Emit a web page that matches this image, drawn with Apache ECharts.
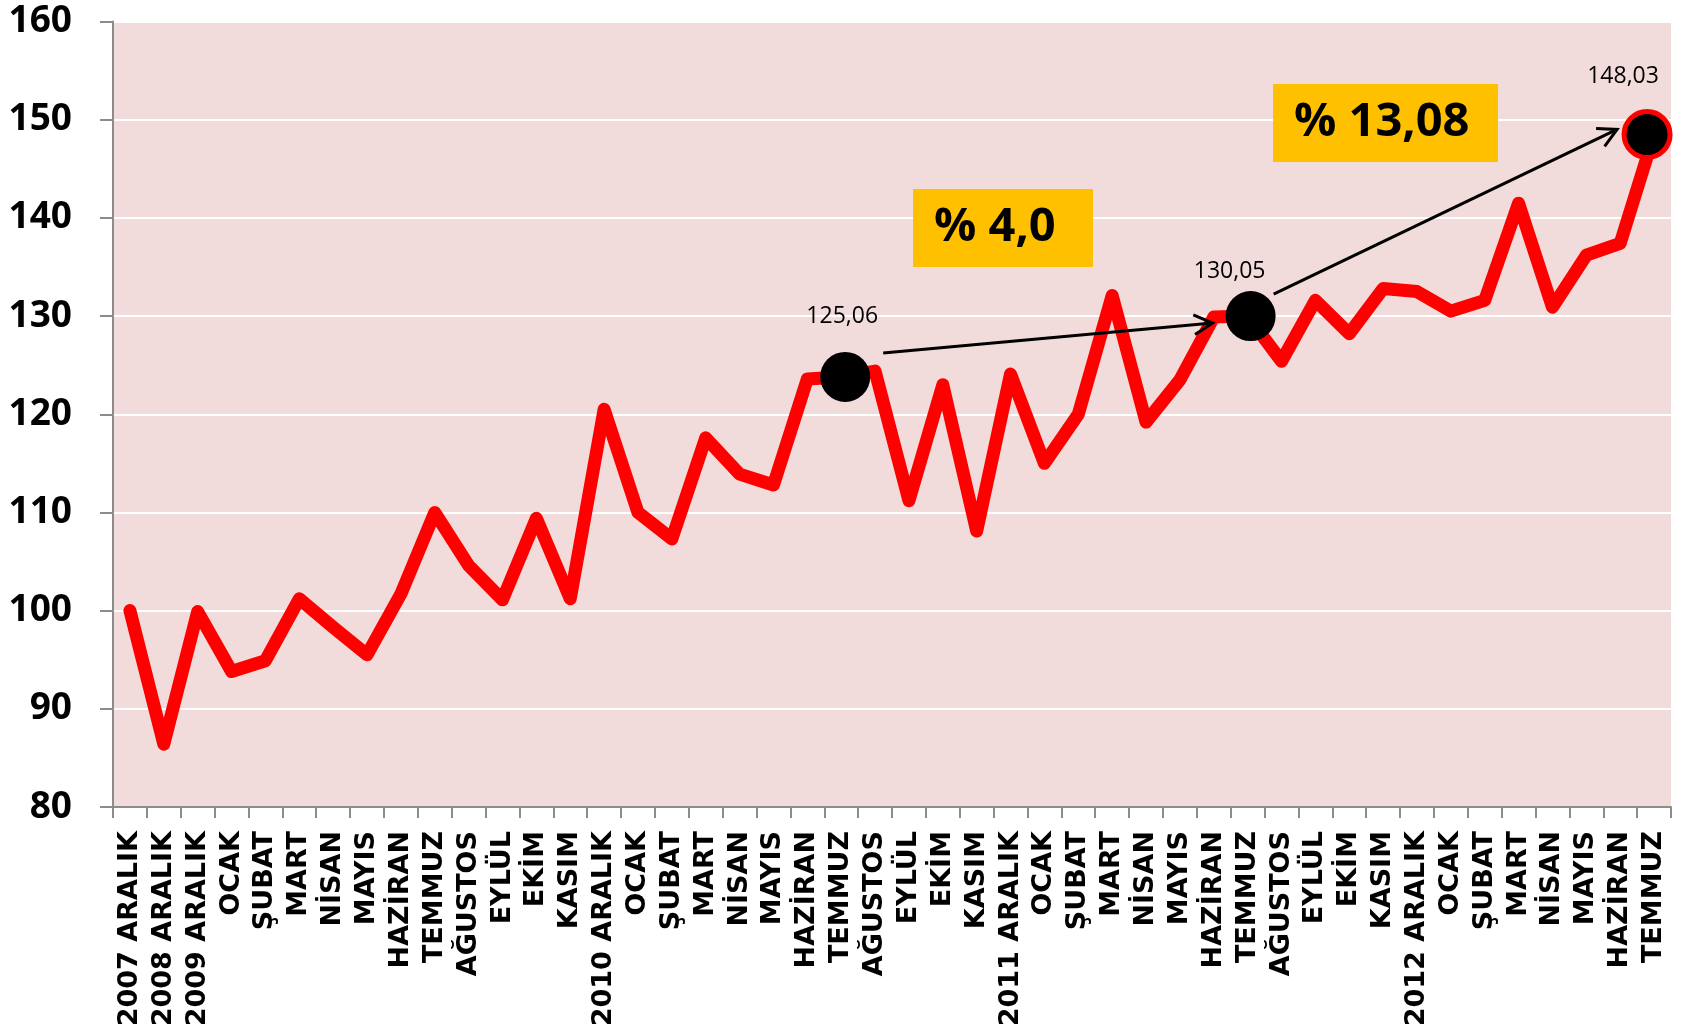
<!DOCTYPE html>
<html>
<head>
<meta charset="utf-8">
<script src="https://cdn.jsdelivr.net/npm/echarts@6/dist/echarts.min.js"></script>
<style>
html,body{margin:0;padding:0;background:#fff;}
#c{width:1692px;height:1031px;}
</style>
</head>
<body>
<div id="c"></div>
<script>
const categories = ["2007 ARALIK","2008 ARALIK","2009 ARALIK","OCAK","ŞUBAT","MART","NİSAN","MAYIS","HAZİRAN","TEMMUZ","AĞUSTOS","EYLÜL","EKİM","KASIM",
  "2010 ARALIK","OCAK","ŞUBAT","MART","NİSAN","MAYIS","HAZİRAN","TEMMUZ","AĞUSTOS","EYLÜL","EKİM","KASIM",
  "2011 ARALIK","OCAK","ŞUBAT","MART","NİSAN","MAYIS","HAZİRAN","TEMMUZ","AĞUSTOS","EYLÜL","EKİM","KASIM",
  "2012 ARALIK","OCAK","ŞUBAT","MART","NİSAN","MAYIS","HAZİRAN","TEMMUZ"];
const values = [100.0, 86.4, 99.9, 93.8, 94.9, 101.2, 98.3, 95.5, 101.7, 110.0,
  104.6, 101.1, 109.4, 101.2, 120.5, 110.0, 107.3, 117.6, 113.9, 112.8,
  123.6, 123.8, 124.4, 111.2, 123.0, 108.1, 124.1, 115.0, 120.0, 132.1,
  119.2, 123.5, 129.9, 130.0, 125.4, 131.6, 128.2, 132.8, 132.5, 130.5,
  131.6, 141.5, 130.9, 136.2, 137.4, 148.5];
const highlightIndex = [21, 33, 45];
const highlightLabels = ["125,06", "130,05", "148,03"];
const changeLabels = ["% 4,0", "% 13,08"];
const yTicks = {min: 80, max: 160, interval: 10};

const symbolShifts = [[4, 0], [3, 0], [-7, 0]];
const labelOffsets = [[-3, -60], [-21, -45], [-24, -58]];

const seriesData = values.map((v, i) => {
  const k = highlightIndex.indexOf(i);
  if (k < 0) return v;
  const last = k === 2;
  return {
    value: v,
    symbol: 'circle',
    symbolSize: last ? 46 : 50,
    symbolOffset: symbolShifts[k],
    itemStyle: {color: '#000', borderColor: last ? '#ff0000' : '#000', borderWidth: last ? 5 : 0},
    label: {
      show: true, position: 'inside', offset: labelOffsets[k],
      formatter: highlightLabels[k], color: '#000', fontSize: 23,
      fontFamily: 'Open Sans'
    }
  };
});

const chart = echarts.init(document.getElementById('c'), null, {renderer: 'canvas'});
chart.setOption({
  animation: false,
  backgroundColor: '#ffffff',
  grid: {left: 113, right: 21, top: 21.5, bottom: 224, show: true, backgroundColor: '#F2DCDB', borderWidth: 0},
  xAxis: {
    type: 'category', data: categories, boundaryGap: true,
    axisLine: {show: true, lineStyle: {color: '#8c8c8c', width: 2}},
    axisTick: {show: true, length: 11, interval: 0, lineStyle: {color: '#8c8c8c', width: 2}},
    axisLabel: {interval: 0, rotate: 90, margin: 24, color: '#000', fontWeight: 'bold', fontSize: 27, fontFamily: 'DejaVu Sans'},
    splitLine: {show: false}
  },
  yAxis: {
    type: 'value', min: yTicks.min, max: yTicks.max, interval: yTicks.interval,
    axisLine: {show: true, lineStyle: {color: '#8c8c8c', width: 2}},
    axisTick: {show: true, length: 13, lineStyle: {color: '#8c8c8c', width: 2}},
    axisLabel: {margin: 41, color: '#000', fontWeight: 'bold', fontSize: 37, fontFamily: 'Open Sans'},
    splitLine: {show: true, lineStyle: {color: '#ffffff', width: 2}}
  },
  series: [{
    type: 'line', data: seriesData,
    symbol: 'circle', symbolSize: 0, showSymbol: true, showAllSymbol: true,
    itemStyle: {color: '#ff0000'},
    lineStyle: {color: '#ff0000', width: 13, join: 'round', cap: 'round'},
    emphasis: {disabled: true},
    z: 3
  }]
});

const pts = highlightIndex.map((i, k) => {
  const p = chart.convertToPixel({seriesIndex: 0}, [i, values[i]]);
  return [p[0] + symbolShifts[k][0], p[1] + symbolShifts[k][1]];
});

function arrow(p0, p1) {
  const ang = Math.atan2(p1[1] - p0[1], p1[0] - p0[0]);
  const L = 21, a = 0.49;
  const h1 = [p1[0] - L * Math.cos(ang - a), p1[1] - L * Math.sin(ang - a)];
  const h2 = [p1[0] - L * Math.cos(ang + a), p1[1] - L * Math.sin(ang + a)];
  return [
    {type: 'polyline', z: 10, shape: {points: [p0, p1]}, style: {stroke: '#000', lineWidth: 3, fill: null}},
    {type: 'polyline', z: 10, shape: {points: [h1, p1, h2]}, style: {stroke: '#000', lineWidth: 3, fill: null}}
  ];
}
const a1 = arrow([pts[0][0] + 38, pts[0][1] - 24], [pts[1][0] - 38, pts[1][1] + 7]);
const a2 = arrow([pts[1][0] + 23, pts[1][1] - 22], [pts[2][0] - 30, pts[2][1] - 5]);

function box(x, y, w, h, txt) {
  return [
    {type: 'rect', z: 10, shape: {x: x, y: y, width: w, height: h}, style: {fill: '#FFC000'}},
    {type: 'text', z: 11, x: x + 21, y: y + h / 2, style: {text: txt, fill: '#000', font: 'bold 47px "Open Sans"', textVerticalAlign: 'middle', textAlign: 'left'}}
  ];
}

chart.setOption({
  graphic: [].concat(a1, a2, box(913, 189, 180, 78, changeLabels[0]), box(1273, 84, 225, 78, changeLabels[1]))
});
</script>
</body>
</html>
